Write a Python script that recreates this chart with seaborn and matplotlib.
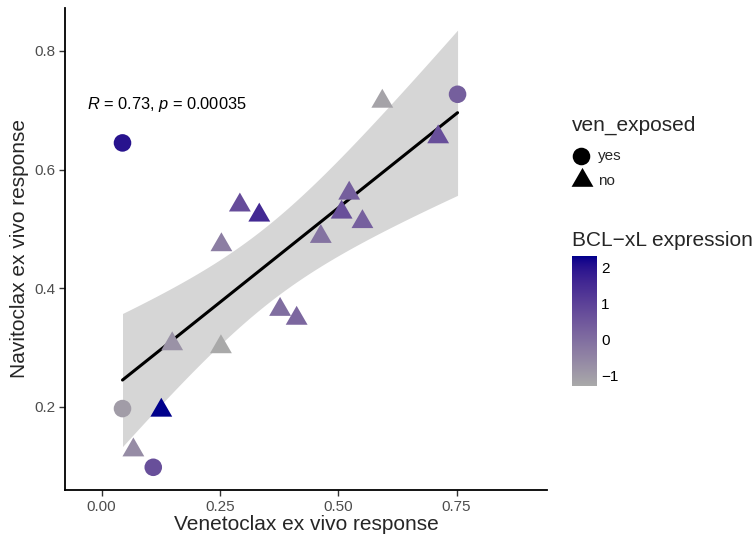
import numpy as np
import pandas as pd
import matplotlib
matplotlib.use("Agg")
import matplotlib.pyplot as plt
import seaborn as sns
from matplotlib.colors import ListedColormap, Normalize, to_rgb
from matplotlib.cm import ScalarMappable

# ---------------- data ----------------
ven_response = [0.044, 0.752, 0.044, 0.109,
                0.593, 0.711, 0.292, 0.333, 0.523, 0.507, 0.551, 0.463,
                0.253, 0.377, 0.412, 0.149, 0.252, 0.126, 0.067]
navi_response = [0.645, 0.727, 0.197, 0.098,
                 0.715, 0.655, 0.540, 0.523, 0.560, 0.528, 0.512, 0.487,
                 0.473, 0.364, 0.349, 0.306, 0.301, 0.194, 0.127]
ven_exposed = ["yes", "yes", "yes", "yes",
               "no", "no", "no", "no", "no", "no", "no", "no",
               "no", "no", "no", "no", "no", "no", "no"]
bclxl = [2.0, 0.35, -1.0, 0.7,
         -1.15, 0.7, 0.75, 1.55, 0.35, 0.7, 0.3, -0.1,
         -0.35, 0.0, 0.15, -0.8, -1.28, 2.32, -0.65]
cbar_ticks = [-1, 0, 1, 2]
x_ticks = [0.0, 0.25, 0.50, 0.75]
y_ticks = [0.2, 0.4, 0.6, 0.8]
annot_text = r"$\mathit{R}$ = 0.73, $\mathit{p}$ = 0.00035"

df = pd.DataFrame({"ven": ven_response, "navi": navi_response,
                   "exposed": ven_exposed, "bclxl": bclxl})

# ---------------- colour scale (Lab interpolation, like ggplot) ----------------
def _srgb_to_lin(c):
    c = np.asarray(c)
    return np.where(c <= 0.04045, c / 12.92, ((c + 0.055) / 1.055) ** 2.4)

def _lin_to_srgb(c):
    c = np.clip(c, 0, 1)
    return np.where(c <= 0.0031308, 12.92 * c, 1.055 * c ** (1 / 2.4) - 0.055)

_M = np.array([[0.4124, 0.3576, 0.1805],
               [0.2126, 0.7152, 0.0722],
               [0.0193, 0.1192, 0.9505]])
_WP = np.array([0.95047, 1.0, 1.08883])

def rgb2lab(rgb):
    xyz = _M @ _srgb_to_lin(rgb) / _WP
    f = np.where(xyz > 0.008856, np.cbrt(xyz), 7.787 * xyz + 16 / 116)
    return np.array([116 * f[1] - 16, 500 * (f[0] - f[1]), 200 * (f[1] - f[2])])

def lab2rgb(lab):
    L, a, b = lab
    fy = (L + 16) / 116
    fx = fy + a / 500
    fz = fy - b / 200
    f = np.array([fx, fy, fz])
    xyz = np.where(f ** 3 > 0.008856, f ** 3, (f - 16 / 116) / 7.787) * _WP
    lin = np.linalg.solve(_M, xyz)
    return _lin_to_srgb(lin)

lo = rgb2lab(to_rgb("#A9A9A9"))
hi = rgb2lab(to_rgb("#00008B"))
cols = [lab2rgb(lo + t * (hi - lo)) for t in np.linspace(0, 1, 256)]
cmap = ListedColormap(cols)
vmin, vmax = min(bclxl), max(bclxl)
norm = Normalize(vmin, vmax)

# ---------------- fonts ----------------
sns.set_style("white")
plt.rcParams["font.family"] = ["Liberation Sans", "DejaVu Sans"]
plt.rcParams["mathtext.fontset"] = "custom"
plt.rcParams["mathtext.rm"] = "Liberation Sans"
plt.rcParams["mathtext.it"] = "Liberation Sans:italic"

W, H = 755, 538
fig = plt.figure(figsize=(W / 100, H / 100), dpi=100)
ax = fig.add_axes([65 / W, 1 - 490 / H, (547 - 65) / W, (490 - 8) / H])

# ---------------- regression line with 95% CI ----------------
x = np.asarray(ven_response)
y = np.asarray(navi_response)
n = len(x)
slope, intercept = np.polyfit(x, y, 1)
xs = np.linspace(x.min(), x.max(), 100)
yhat = intercept + slope * xs
resid = y - (intercept + slope * x)
s_err = np.sqrt(np.sum(resid ** 2) / (n - 2))
t_crit = 2.109816  # t(0.975, df=17)
se = s_err * np.sqrt(1 / n + (xs - x.mean()) ** 2 / np.sum((x - x.mean()) ** 2))
ax.fill_between(xs, yhat - t_crit * se, yhat + t_crit * se,
                color="#D6D6D6", linewidth=0, zorder=1)
ax.plot(xs, yhat, color="black", lw=2.2, zorder=2)

# ---------------- points ----------------
tri = [(0, 1), (-0.8660254, -0.5), (0.8660254, -0.5)]
sns.scatterplot(data=df[df.exposed == "yes"], x="ven", y="navi", hue="bclxl",
                palette=cmap, hue_norm=norm, marker="o", s=160, linewidth=0,
                legend=False, ax=ax, zorder=3)
sns.scatterplot(data=df[df.exposed == "no"], x="ven", y="navi", hue="bclxl",
                palette=cmap, hue_norm=norm, marker=tri, s=330, linewidth=0,
                legend=False, ax=ax, zorder=3)

ax.text(-0.030, 0.709, annot_text, fontsize=11.8, ha="left", va="center",
        color="black", zorder=4)

ax.set_xlim(-0.0775, 0.941)
ax.set_ylim(0.0597, 0.8725)
ax.set_xticks(x_ticks)
ax.set_xticklabels([f"{v:.2f}" for v in x_ticks])
ax.set_yticks(y_ticks)
ax.set_yticklabels([f"{v:.1f}" for v in y_ticks])
ax.tick_params(axis="both", length=4, width=1, color="#333333",
               labelsize=11, labelcolor="#4D4D4D", pad=3, direction="out",
               bottom=True, left=True)
for side in ["top", "right"]:
    ax.spines[side].set_visible(False)
for side in ["left", "bottom"]:
    ax.spines[side].set_color("black")
    ax.spines[side].set_linewidth(1.3)
ax.set_xlabel("Venetoclax ex vivo response", fontsize=15, labelpad=1)
ax.set_ylabel("Navitoclax ex vivo response", fontsize=15, labelpad=4)

# ---------------- shape legend ----------------
lax = fig.add_axes([0, 0, 1, 1], zorder=5)
lax.set_xlim(0, W)
lax.set_ylim(H, 0)
lax.axis("off")
lax.text(572, 125, "ven_exposed", fontsize=15, ha="left", va="center")
lax.scatter([581], [156], marker="o", s=160, color="black", linewidths=0)
lax.scatter([582], [180], marker=tri, s=330, color="black", linewidths=0)
lax.text(598, 156, "yes", fontsize=11, ha="left", va="center")
lax.text(598, 181, "no", fontsize=11, ha="left", va="center")
lax.text(572, 240, "BCL\u2212xL expression", fontsize=15, ha="left", va="center")

# ---------------- colour bar ----------------
cax = fig.add_axes([572 / W, 1 - 386 / H, 25 / W, 130 / H], zorder=6)
cb = fig.colorbar(ScalarMappable(norm=norm, cmap=cmap), cax=cax)
cb.outline.set_visible(False)
cb.set_ticks(cbar_ticks)
cb.set_ticklabels([str(t).replace("-", "\u2212") for t in cbar_ticks])
cax.yaxis.set_ticks_position("both")
cax.tick_params(axis="y", direction="in", length=5, width=1, color="white",
                labelsize=11, labelcolor="black", pad=3, labelleft=False,
                labelright=True)

fig.savefig("out.png", dpi=100)
